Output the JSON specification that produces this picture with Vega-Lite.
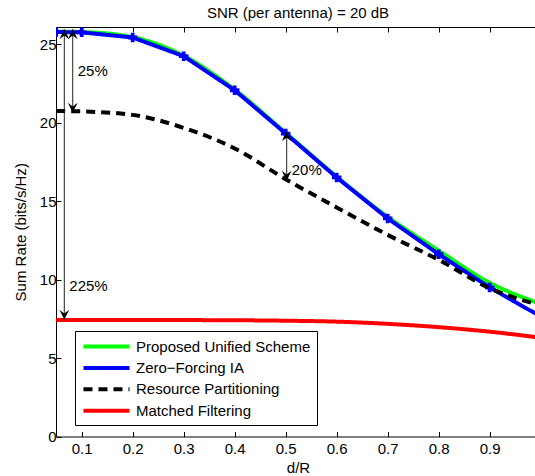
{
  "$schema": "https://vega.github.io/schema/vega-lite/v6.json",
  "width": 479,
  "height": 409.5,
  "autosize": {"type": "none"},
  "padding": {"left": 56, "top": 27, "right": 0, "bottom": 40},
  "title": {"text": "SNR (per antenna) = 20 dB", "fontSize": 15, "fontWeight": "normal", "font": "Liberation Sans", "color": "black", "anchor": "middle", "dx": 2.5, "offset": 6},
  "config": {
    "font": "Liberation Sans",
    "view": {"stroke": null},
    "axis": {"labelFont": "Liberation Sans", "titleFont": "Liberation Sans", "labelFontSize": 15, "titleFontSize": 15, "titleFontWeight": "normal", "labelColor": "black", "titleColor": "black", "domainColor": "black", "tickColor": "black", "grid": false, "tickSize": -5, "domainWidth": 1, "tickWidth": 1}
  },
  "datasets": {
    "curves": [
      {"series": "Proposed Unified Scheme", "x": 0.05, "y": 25.8},
      {"series": "Proposed Unified Scheme", "x": 0.1, "y": 25.78},
      {"series": "Proposed Unified Scheme", "x": 0.2, "y": 25.45},
      {"series": "Proposed Unified Scheme", "x": 0.3, "y": 24.26},
      {"series": "Proposed Unified Scheme", "x": 0.4, "y": 22.1},
      {"series": "Proposed Unified Scheme", "x": 0.5, "y": 19.35},
      {"series": "Proposed Unified Scheme", "x": 0.6, "y": 16.56},
      {"series": "Proposed Unified Scheme", "x": 0.7, "y": 14.0},
      {"series": "Proposed Unified Scheme", "x": 0.8, "y": 11.85},
      {"series": "Proposed Unified Scheme", "x": 0.9, "y": 9.8},
      {"series": "Proposed Unified Scheme", "x": 1.0, "y": 8.45},
      {"series": "Zero−Forcing IA", "x": 0.05, "y": 25.78},
      {"series": "Zero−Forcing IA", "x": 0.1, "y": 25.76},
      {"series": "Zero−Forcing IA", "x": 0.2, "y": 25.43},
      {"series": "Zero−Forcing IA", "x": 0.3, "y": 24.24},
      {"series": "Zero−Forcing IA", "x": 0.4, "y": 22.07},
      {"series": "Zero−Forcing IA", "x": 0.5, "y": 19.31},
      {"series": "Zero−Forcing IA", "x": 0.6, "y": 16.51},
      {"series": "Zero−Forcing IA", "x": 0.7, "y": 13.9},
      {"series": "Zero−Forcing IA", "x": 0.8, "y": 11.62},
      {"series": "Zero−Forcing IA", "x": 0.9, "y": 9.5},
      {"series": "Zero−Forcing IA", "x": 1.0, "y": 7.65},
      {"series": "Resource Partitioning", "x": 0.05, "y": 20.75},
      {"series": "Resource Partitioning", "x": 0.1, "y": 20.72},
      {"series": "Resource Partitioning", "x": 0.2, "y": 20.5},
      {"series": "Resource Partitioning", "x": 0.3, "y": 19.67},
      {"series": "Resource Partitioning", "x": 0.4, "y": 18.36},
      {"series": "Resource Partitioning", "x": 0.5, "y": 16.4},
      {"series": "Resource Partitioning", "x": 0.6, "y": 14.6},
      {"series": "Resource Partitioning", "x": 0.7, "y": 12.85},
      {"series": "Resource Partitioning", "x": 0.8, "y": 11.26},
      {"series": "Resource Partitioning", "x": 0.9, "y": 9.45},
      {"series": "Resource Partitioning", "x": 1.0, "y": 8.35},
      {"series": "Matched Filtering", "x": 0.05, "y": 7.43},
      {"series": "Matched Filtering", "x": 0.1, "y": 7.43},
      {"series": "Matched Filtering", "x": 0.2, "y": 7.43},
      {"series": "Matched Filtering", "x": 0.3, "y": 7.42},
      {"series": "Matched Filtering", "x": 0.4, "y": 7.41},
      {"series": "Matched Filtering", "x": 0.5, "y": 7.38},
      {"series": "Matched Filtering", "x": 0.6, "y": 7.32},
      {"series": "Matched Filtering", "x": 0.7, "y": 7.18},
      {"series": "Matched Filtering", "x": 0.8, "y": 6.97},
      {"series": "Matched Filtering", "x": 0.9, "y": 6.68},
      {"series": "Matched Filtering", "x": 1.0, "y": 6.3}
    ],
    "ann": [
      {"x": 0.0659, "top": 25.95, "bot": 7.45, "label": "225%", "ly": 9.6},
      {"x": 0.0824, "top": 25.95, "bot": 20.65, "label": "25%", "ly": 23.27},
      {"x": 0.502, "top": 19.44, "bot": 16.31, "label": "20%", "ly": 17.0}
    ]
  },
  "resolve": {"axis": {"x": "independent"}},
  "layer": [
    {
      "data": {"name": "curves"},
      "transform": [{"filter": "datum.series === 'Proposed Unified Scheme'"}],
      "mark": {"type": "line", "strokeWidth": 4, "clip": true, "interpolate": "monotone"},
      "encoding": {
        "x": {"field": "x", "type": "quantitative", "scale": {"domain": [0.0496, 0.9889], "nice": false, "zero": false},
              "axis": {"orient": "bottom", "values": [0.1, 0.2, 0.3, 0.4, 0.5, 0.6, 0.7, 0.8, 0.9], "format": ".1f", "title": "d/R", "titleX": 242, "titleY": 31, "titleBaseline": "middle", "labelPadding": 10}},
        "y": {"field": "y", "type": "quantitative", "scale": {"domain": [0, 26.1], "nice": false},
              "axis": {"values": [0, 5, 10, 15, 20, 25], "title": "Sum Rate (bits/s/Hz)", "titleX": -36, "titleY": 204.75, "titleAngle": -90, "titleAlign": "center", "titleBaseline": "middle", "labelPadding": 5}},
        "color": {"field": "series", "type": "nominal",
                  "scale": {"domain": ["Proposed Unified Scheme", "Zero−Forcing IA", "Resource Partitioning", "Matched Filtering"], "range": ["#00ff00", "#0000ff", "#000000", "#ff0000"]},
                  "legend": {"title": null, "orient": "none", "legendX": 19, "legendY": 304, "direction": "vertical", "strokeColor": "black", "fillColor": "white", "padding": 6, "symbolType": "M-3.07,0 L3.07,0", "symbolSize": 225, "symbolStrokeWidth": 4, "symbolOffset": 16, "labelFontSize": 15, "labelFont": "Liberation Sans", "labelColor": "black", "labelOffset": 20, "rowPadding": 3.4, "labelLimit": 400}},
        "strokeDash": {"field": "series", "type": "nominal",
                  "scale": {"domain": ["Proposed Unified Scheme", "Zero−Forcing IA", "Resource Partitioning", "Matched Filtering"], "range": [[1, 0], [1, 0], [9, 6], [1, 0]]},
                  "legend": {"title": null}}
      }
    },
    {
      "data": {"name": "curves"},
      "transform": [{"filter": "datum.series === 'Zero−Forcing IA'"}],
      "mark": {"type": "line", "strokeWidth": 4, "clip": true},
      "encoding": {
        "x": {"field": "x", "type": "quantitative", "axis": {"orient": "top", "values": [0.1, 0.2, 0.3, 0.4, 0.5, 0.6, 0.7, 0.8, 0.9], "labels": false, "title": null}},
        "y": {"field": "y", "type": "quantitative"},
        "color": {"field": "series", "type": "nominal"},
        "strokeDash": {"field": "series", "type": "nominal"}
      }
    },
    {
      "data": {"name": "curves"},
      "transform": [{"filter": "datum.series === 'Zero−Forcing IA'"}],
      "mark": {"type": "point", "shape": "cross", "filled": true, "size": 90, "color": "#0000ff", "opacity": 1, "clip": true},
      "encoding": {
        "x": {"field": "x", "type": "quantitative", "axis": null},
        "y": {"field": "y", "type": "quantitative"}
      }
    },
    {
      "data": {"name": "curves"},
      "transform": [{"filter": "datum.series === 'Resource Partitioning'"}],
      "mark": {"type": "line", "strokeWidth": 4, "clip": true, "interpolate": "monotone"},
      "encoding": {
        "x": {"field": "x", "type": "quantitative", "axis": null},
        "y": {"field": "y", "type": "quantitative"},
        "color": {"field": "series", "type": "nominal"},
        "strokeDash": {"field": "series", "type": "nominal"}
      }
    },
    {
      "data": {"name": "curves"},
      "transform": [{"filter": "datum.series === 'Matched Filtering'"}],
      "mark": {"type": "line", "strokeWidth": 4, "clip": true, "interpolate": "monotone"},
      "encoding": {
        "x": {"field": "x", "type": "quantitative", "axis": null},
        "y": {"field": "y", "type": "quantitative"},
        "color": {"field": "series", "type": "nominal"},
        "strokeDash": {"field": "series", "type": "nominal"}
      }
    },
    {
      "data": {"name": "ann"},
      "mark": {"type": "rule", "color": "#222222", "strokeWidth": 1},
      "encoding": {
        "x": {"field": "x", "type": "quantitative", "axis": null},
        "y": {"field": "top", "type": "quantitative"},
        "y2": {"field": "bot"}
      }
    },
    {
      "data": {"name": "ann"},
      "mark": {"type": "point", "shape": "M0,0 L0.8,1.6 L0,1 L-0.8,1.6 Z", "filled": true, "size": 150, "color": "black", "opacity": 1},
      "encoding": {
        "x": {"field": "x", "type": "quantitative", "axis": null},
        "y": {"field": "top", "type": "quantitative"}
      }
    },
    {
      "data": {"name": "ann"},
      "mark": {"type": "point", "shape": "M0,0 L0.8,-1.6 L0,-1 L-0.8,-1.6 Z", "filled": true, "size": 150, "color": "black", "opacity": 1},
      "encoding": {
        "x": {"field": "x", "type": "quantitative", "axis": null},
        "y": {"field": "bot", "type": "quantitative"}
      }
    },
    {
      "data": {"name": "ann"},
      "mark": {"type": "text", "align": "left", "baseline": "middle", "dx": 5, "fontSize": 15, "font": "Liberation Sans", "color": "black"},
      "encoding": {
        "x": {"field": "x", "type": "quantitative", "axis": null},
        "y": {"field": "ly", "type": "quantitative"},
        "text": {"field": "label"}
      }
    }
  ]
}
